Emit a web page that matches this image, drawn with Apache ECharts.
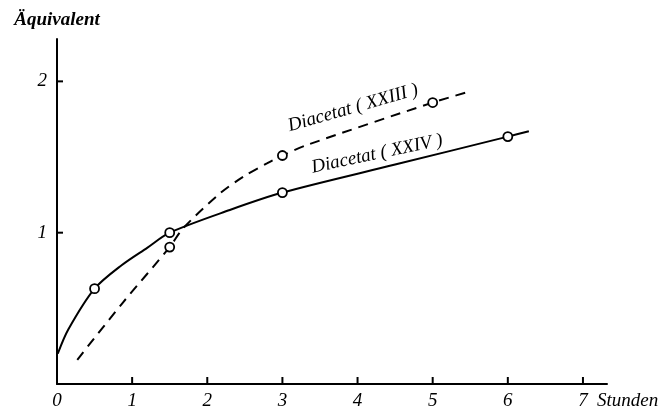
<!DOCTYPE html>
<html>
<head>
<meta charset="utf-8">
<script src="https://cdn.jsdelivr.net/npm/echarts@6/dist/echarts.min.js"></script>
<style>html,body{margin:0;padding:0;background:#fff}#c{width:664px;height:408px}</style>
</head>
<body>
<div id="c"></div>
<script>
// Curve XXIV (solid) traced points
const xxivX = [0.01, 0.15, 0.5, 0.86, 1.2, 1.5, 2.3, 3, 4.5, 6, 6.28];
const xxivY = [0.2, 0.36, 0.63, 0.785, 0.9, 1.0, 1.15, 1.265, 1.45, 1.635, 1.67];
// Curve XXIII (dashed) traced points
const xxiiiX = [0.27, 0.88, 1.5, 1.68, 2.17, 2.48, 2.8, 3, 3.33, 5, 5.47];
const xxiiiY = [0.16, 0.54, 0.905, 1.03, 1.26, 1.37, 1.46, 1.51, 1.58, 1.86, 1.93];
// Measured points (open circles)
const ptsXXIVX = [0.5, 1.5, 3, 6];
const ptsXXIVY = [0.63, 1.0, 1.265, 1.635];
const ptsXXIIIX = [1.5, 3, 5];
const ptsXXIIIY = [0.905, 1.51, 1.86];
const xLabelVals = [0, 1, 2, 3, 4, 5, 6, 7];
const xTickVals = [1, 2, 3, 4, 5, 6, 7];
const yLabelVals = [1, 2];
const labelXXIII = 'Diacetat ( XXIII )';
const labelXXIV = 'Diacetat ( XXIV )';

const zip = (a, b) => a.map((v, i) => [v, b[i]]);
const FONT = 'Liberation Serif';
const chart = echarts.init(document.getElementById('c'), null, {renderer: 'canvas'});
chart.setOption({
  backgroundColor: '#fff',
  animation: false,
  grid: {left: 57, right: 57, top: 39, bottom: 24, containLabel: false, outerBoundsMode: 'none'},
  xAxis: {
    type: 'value', min: 0, max: 7.32,
    axisLine: {show: true, onZero: false, lineStyle: {color: '#000', width: 2}},
    axisTick: {show: false},
    splitLine: {show: false},
    axisLabel: {
      color: '#000', fontFamily: FONT, fontStyle: 'italic', fontSize: 19, margin: 7,
      customValues: xLabelVals, formatter: (v) => String(v)
    },
    name: 'Stunden', nameLocation: 'end', nameGap: -10,
    nameTextStyle: {color: '#000', fontFamily: FONT, fontStyle: 'italic', fontSize: 19, verticalAlign: 'top', padding: [7, 0, 0, 0]}
  },
  yAxis: {
    type: 'value', min: 0, max: 2.28,
    axisLine: {show: true, onZero: false, lineStyle: {color: '#000', width: 2}},
    axisTick: {show: false},
    splitLine: {show: false},
    axisLabel: {
      color: '#000', fontFamily: FONT, fontStyle: 'italic', fontSize: 19, margin: 10,
      customValues: yLabelVals, formatter: (v) => String(v)
    },
    name: 'Äquivalent', nameLocation: 'end', nameGap: 9,
    nameTextStyle: {color: '#000', fontFamily: FONT, fontStyle: 'italic', fontWeight: 'bold', fontSize: 19, align: 'center'}
  },
  series: [
    {type: 'line', data: zip(xxivX, xxivY), smooth: 0.3, showSymbol: false,
     lineStyle: {color: '#000', width: 2}, z: 2},
    {type: 'line', data: zip(xxiiiX, xxiiiY), smooth: 0.3, showSymbol: false,
     lineStyle: {color: '#000', width: 2, type: [10, 7]}, z: 2},
    {type: 'scatter', data: zip(ptsXXIVX, ptsXXIVY), symbol: 'circle', symbolSize: 9,
     itemStyle: {color: '#fff', opacity: 1, borderColor: '#000', borderWidth: 1.8}, z: 3},
    {type: 'scatter', data: zip(ptsXXIIIX, ptsXXIIIY), symbol: 'circle', symbolSize: 9,
     itemStyle: {color: '#fff', opacity: 1, borderColor: '#000', borderWidth: 1.8}, z: 3},
    // axis tick marks (pointing inward)
    {type: 'scatter', data: xTickVals.map(v => [v, 0]), symbol: 'rect', symbolSize: [2, 7],
     symbolOffset: [0, -3.5], clip: false, silent: true,
     itemStyle: {color: '#000', opacity: 1}, z: 4},
    {type: 'scatter', data: yLabelVals.map(v => [0, v]), symbol: 'rect', symbolSize: [6, 2],
     symbolOffset: [3, 0], clip: false, silent: true,
     itemStyle: {color: '#000', opacity: 1}, z: 4}
  ],
  graphic: [
    {type: 'text', x: 353, y: 108, rotation: 16 * Math.PI / 180,
     style: {text: labelXXIII, fill: '#000', font: 'italic 19px "Liberation Serif"', textAlign: 'center', textVerticalAlign: 'middle'}},
    {type: 'text', x: 377, y: 154, rotation: 12 * Math.PI / 180,
     style: {text: labelXXIV, fill: '#000', font: 'italic 19px "Liberation Serif"', textAlign: 'center', textVerticalAlign: 'middle'}}
  ]
});
</script>
</body>
</html>
